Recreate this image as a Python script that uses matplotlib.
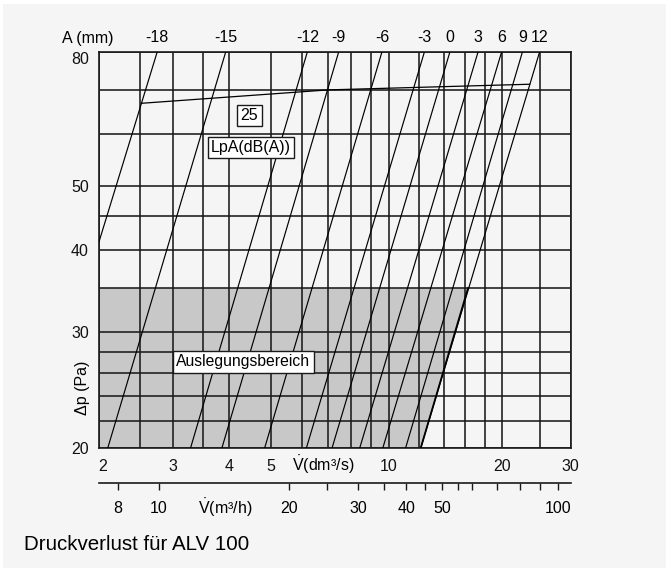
import numpy as np
import matplotlib
matplotlib.use('Agg')
import matplotlib.pyplot as plt
from matplotlib.patches import Rectangle
from matplotlib.ticker import NullFormatter

plt.rcParams['font.family'] = ['Liberation Sans', 'DejaVu Sans']
plt.rcParams['mathtext.fontset'] = 'custom'
plt.rcParams['mathtext.rm'] = 'Liberation Sans'
plt.rcParams['mathtext.it'] = 'Liberation Sans'

# damper setting A (mm) and the flow (dm3/s) where each curve crosses 20 Pa and 80 Pa
a_mm = [-18, -15, -12, -9, -6, -3, 0, 3, 6, 9, 12]
flow_at_20pa = [1.42, 2.10, 3.28, 3.86, 4.84, 6.16, 7.16, 8.42, 9.64, 11.07, 12.15]
flow_at_80pa = [2.75, 3.94, 6.20, 7.45, 9.60, 12.44, 14.55, 17.3, 20.0, 22.6, 25.0]

# 25 dB(A) sound level curve, given as pressure on some of the A curves
lpa_a = [-18, -9, 12]
lpa_dp = [66.8, 70.0, 71.4]
lpa_value = 25

# design range: up to 35 Pa, left of the A = 12 curve
design_dp_max = 35
design_a = 12

x_grid = [2, 2.5, 3, 3.5, 4, 5, 6, 7, 8, 9, 10, 12, 14, 16, 18, 20, 25, 30]
x_labels = [2, 3, 4, 5, 10, 20, 30]
y_grid = [20, 22, 24, 26, 28, 30, 35, 40, 45, 50, 60, 70, 80]
y_labels = [20, 30, 40, 50, 80]
m3h_labels = [8, 10, 20, 30, 40, 50, 100]
m3h_minor = [25, 35, 45, 55, 60, 70, 80, 90]

# the printed flow axis is not an exact log scale; where the labelled values sit
x_cal = [2, 3, 4, 5, 10, 20, 30]
x_cal_frac = [0.0, 0.158, 0.2754, 0.3644, 0.615, 0.8538, 1.0]

lk = np.log10(x_cal)
fk = np.array(x_cal_frac)
lk_ext = np.concatenate([[lk[0] - 2], lk, [lk[-1] + 2]])
fk_ext = np.concatenate([[fk[0] - 2 * (fk[1] - fk[0]) / (lk[1] - lk[0])], fk,
                         [fk[-1] + 2 * (fk[-1] - fk[-2]) / (lk[-1] - lk[-2])]])


def flow_fwd(v):
    v = np.clip(np.asarray(v, dtype=float), 1e-9, None)
    return np.interp(np.log10(v), lk_ext, fk_ext)


def flow_inv(f):
    return 10 ** np.interp(np.asarray(f, dtype=float), fk_ext, lk_ext)


def flow_on_curve(i, dp):
    n = np.log(80 / 20) / np.log(flow_at_80pa[i] / flow_at_20pa[i])
    return flow_at_20pa[i] * (dp / 20) ** (1 / n)


W, H = 669, 572
bg = '#f5f5f5'
ink = '#1a1a1a'
fs = 11.5

fig = plt.figure(figsize=(W / 100, H / 100), dpi=100, facecolor='white')
fig.patches.append(Rectangle((3 / W, 4 / H), 1 - 6 / W, 1 - 8 / H, transform=fig.transFigure,
                             facecolor=bg, edgecolor='none', zorder=-10))

ax = fig.add_axes([98.7 / W, 1 - 448.3 / H, 472 / W, 396.6 / H])
ax.set_facecolor(bg)
ax.set_xscale('function', functions=(flow_fwd, flow_inv))
ax.set_yscale('log')
ax.set_xlim(2, 30)
ax.set_ylim(20, 80)

# grid
ax.set_xticks(x_grid, minor=True)
ax.set_xticks(x_labels, labels=[str(v) for v in x_labels])
ax.set_yticks(y_grid, minor=True)
ax.set_yticks(y_labels, labels=[str(v) for v in y_labels])
ax.xaxis.set_minor_formatter(NullFormatter())
ax.yaxis.set_minor_formatter(NullFormatter())
ax.grid(which='both', color=ink, lw=1.15)
ax.tick_params(which='both', length=0, labelsize=fs, colors='#111111')
ax.tick_params(axis='x', pad=7.5)
ax.tick_params(axis='y', pad=7)
for spine in ax.spines.values():
    spine.set_color(ink)
    spine.set_linewidth(1.2)

for tick in ax.xaxis.get_major_ticks():
    if tick.get_loc() == 2:
        tick.label1.set_horizontalalignment('left')
for tick in ax.yaxis.get_major_ticks():
    if tick.get_loc() == 80:
        tick.label1.set_verticalalignment('top')

# design range
k = a_mm.index(design_a)
v_top = flow_on_curve(k, design_dp_max)
ax.fill([2, 2, v_top, flow_at_20pa[k]], [20, design_dp_max, design_dp_max, 20],
        color='#c8c8c8', lw=0, zorder=1)
ax.plot([flow_at_20pa[k], v_top], [20, design_dp_max], color='black', lw=1.3, zorder=3)

# A curves
for i, a in enumerate(a_mm):
    ax.plot([flow_at_20pa[i], flow_at_80pa[i]], [20, 80], color='black', lw=0.85, zorder=3)
    ax.annotate(str(a), xy=(flow_at_80pa[i], 1), xycoords=ax.get_xaxis_transform(),
                xytext=(0, 10), textcoords='offset points', ha='center', va='center',
                fontsize=fs, annotation_clip=False)

# 25 dB(A) curve
lpa_flow = [flow_on_curve(a_mm.index(a), p) for a, p in zip(lpa_a, lpa_dp)]
ax.plot(lpa_flow, lpa_dp, color='black', lw=0.9, zorder=3)

box = dict(boxstyle='square,pad=0.2', facecolor='white', edgecolor=ink, lw=1)
ax.text(0.3195, 0.839, str(lpa_value), transform=ax.transAxes, ha='center', va='center',
        fontsize=fs, bbox=box, zorder=5)
ax.text(0.3227, 0.7585, 'LpA(dB(A))', transform=ax.transAxes, ha='center', va='center',
        fontsize=fs, bbox=box, zorder=5)
ax.text(0.3068, 0.2176, 'Auslegungsbereich', transform=ax.transAxes, ha='center', va='center',
        fontsize=11.3, bbox=box, zorder=5)

# second flow axis in m3/h
ax2 = fig.add_axes([98.7 / W, 1 - 483.3 / H, 472 / W, 0.0001])
ax2.set_facecolor('none')
ax2.set_xscale('function', functions=(lambda q: flow_fwd(np.asarray(q) / 3.6),
                                      lambda f: flow_inv(f) * 3.6))
ax2.set_xlim(2 * 3.6, 30 * 3.6)
ax2.set_xticks(m3h_minor, minor=True)
ax2.set_xticks(m3h_labels, labels=[str(v) for v in m3h_labels])
ax2.xaxis.set_minor_formatter(NullFormatter())
ax2.set_yticks([])
for side in ['top', 'left', 'right']:
    ax2.spines[side].set_visible(False)
ax2.spines['bottom'].set_color(ink)
ax2.spines['bottom'].set_linewidth(1.2)
ax2.tick_params(which='both', direction='out', length=5.2, width=1, color=ink,
                labelsize=fs, pad=7.5)

fig.text(88 / W, 1 - 38 / H, 'A (mm)', ha='center', va='center', fontsize=fs)
fig.text(323 / W, 1 - 465 / H, r'$\dot{\mathrm{V}}$(dm³/s)', ha='center', va='center', fontsize=fs)
fig.text(225 / W, 1 - 508.3 / H, r'$\dot{\mathrm{V}}$(m³/h)', ha='center', va='center', fontsize=fs)
fig.text(82.5 / W, 1 - 388 / H, 'Δp (Pa)', ha='center', va='center', rotation=90, fontsize=fs)
fig.text(24 / W, 1 - 544.3 / H, 'Druckverlust für ALV 100', ha='left', va='center', fontsize=14.8)

fig.savefig('out.png', dpi=100, facecolor='white')
